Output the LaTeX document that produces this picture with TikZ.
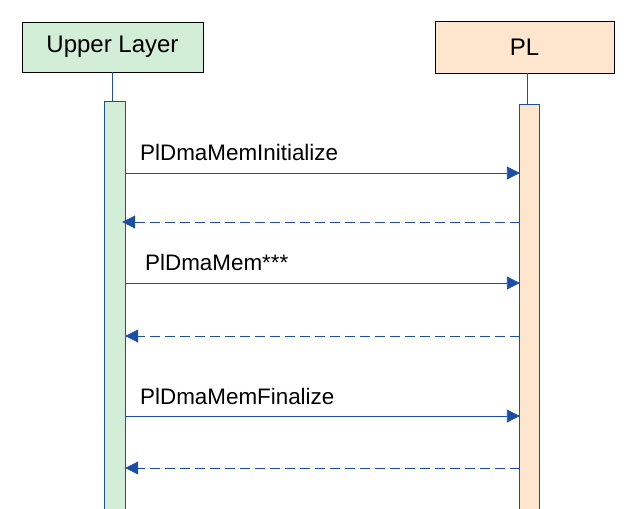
\documentclass[tikz,border=0pt]{standalone}
\usepackage{fontspec}
\setmainfont{Liberation Sans}
\usetikzlibrary{arrows.meta}
\definecolor{ulgreen}{RGB}{210,238,214}
\definecolor{plpeach}{RGB}{253,229,206}
\definecolor{seqblue}{RGB}{28,78,165}
\tikzset{
  headbox/.style={draw=black, line width=0.8pt, inner sep=0pt, font=\fontsize{24}{28}\selectfont},
  actbar/.style={draw=none, inner sep=0pt, minimum width=20pt},
  barside/.style={draw=seqblue, line width=0.9pt},
  lifeln/.style={draw=seqblue, line width=0.9pt},
  callmsg/.style={draw=seqblue, line width=0.9pt, -{Triangle[length=13pt,width=13pt]}},
  retmsg/.style={draw=seqblue, line width=0.9pt, dash pattern=on 10pt off 5pt, -{Triangle[length=13pt,width=13pt]}},
  msglbl/.style={inner sep=0pt, anchor=base west, font=\fontsize{22.4}{26}\selectfont}
}
\begin{document}
\begin{tikzpicture}[x=1pt,y=-1pt]
\useasboundingbox (0,0) rectangle (643,509);
% headers
\node[headbox, fill=ulgreen, minimum width=181pt, minimum height=50pt] (ul) at (112.5,47) {Upper Layer};
\node[headbox, fill=plpeach, minimum width=179pt, minimum height=52pt] (pl) at (524.5,47) {PL};
% activation bars
\node[actbar, fill=ulgreen, minimum height=407pt] (ulbar) at (115,305.5) {};
\node[actbar, fill=plpeach, minimum height=404pt, minimum width=19pt] (plbar) at (529.5,307) {};
\draw[barside] (ulbar.south west) |- (ulbar.north east) -- (ulbar.south east);
\draw[barside] (plbar.south west) |- (plbar.north east) -- (plbar.south east);
% lifelines
\draw[lifeln] (ul.south) -- (ul.south |- ulbar.north);
\draw[lifeln] (pl.south) ++(2.5,0) coordinate (plt) -- (plt |- plbar.north);
% messages
\coordinate (y1) at (0,173);
\coordinate (y2) at (0,222);
\coordinate (y3) at (0,283);
\coordinate (y4) at (0,336);
\coordinate (y5) at (0,416);
\coordinate (y6) at (0,468);
\draw[callmsg] (ulbar.east |- y1) -- (plbar.west |- y1);
\draw[retmsg] (plbar.west |- y2) -- ([xshift=-3pt]ulbar.east |- y2);
\draw[callmsg] (ulbar.east |- y3) -- (plbar.west |- y3);
\draw[retmsg] (plbar.west |- y4) -- (ulbar.east |- y4);
\draw[callmsg] (ulbar.east |- y5) -- (plbar.west |- y5);
\draw[retmsg] (plbar.west |- y6) -- (ulbar.east |- y6);
% labels
\node[msglbl] (l1) at (140,160) {PlDmaMemInitialize};
\node[msglbl] (l3) at (145,270) {PlDmaMem***};
\node[msglbl] (l5) at (140,404) {PlDmaMemFinalize};
\end{tikzpicture}
\end{document}
